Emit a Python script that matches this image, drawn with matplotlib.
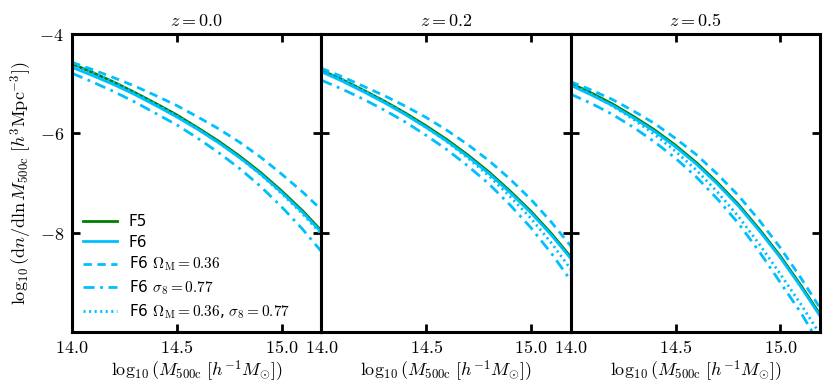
import matplotlib
matplotlib.use("Agg")
import matplotlib.pyplot as plt
import numpy as np

plt.rcParams['mathtext.fontset'] = 'cm'
plt.rcParams['font.family'] = ['DejaVu Sans']
plt.rcParams['lines.scale_dashes'] = False

# log10 mass grid (h^-1 Msun)
log_mass = [14.0, 14.1, 14.2, 14.3, 14.4, 14.5, 14.6, 14.7, 14.8, 14.9, 15.0, 15.1, 15.2]
redshifts = ["0.0", "0.2", "0.5"]

# log10(dn/dlnM) per redshift panel
f5 = [
    [-4.60, -4.78, -4.97, -5.18, -5.40, -5.63, -5.89, -6.16, -6.46, -6.79, -7.16, -7.56, -8.01],
    [-4.73, -4.92, -5.13, -5.35, -5.59, -5.85, -6.13, -6.44, -6.78, -7.16, -7.57, -8.03, -8.54],
    [-4.99, -5.19, -5.41, -5.66, -5.93, -6.24, -6.59, -6.99, -7.43, -7.93, -8.47, -9.07, -9.71],
]
f6 = [
    [-4.67, -4.84, -5.02, -5.22, -5.44, -5.67, -5.92, -6.19, -6.49, -6.82, -7.19, -7.59, -8.04],
    [-4.76, -4.95, -5.16, -5.38, -5.62, -5.88, -6.16, -6.47, -6.81, -7.19, -7.60, -8.06, -8.57],
    [-5.03, -5.23, -5.44, -5.69, -5.96, -6.27, -6.62, -7.02, -7.46, -7.96, -8.50, -9.10, -9.74],
]
f6_om036 = [
    [-4.57, -4.72, -4.88, -5.05, -5.24, -5.44, -5.67, -5.91, -6.18, -6.48, -6.82, -7.18, -7.58],
    [-4.69, -4.86, -5.05, -5.24, -5.45, -5.68, -5.94, -6.23, -6.55, -6.92, -7.33, -7.80, -8.32],
    [-4.96, -5.13, -5.32, -5.55, -5.80, -6.10, -6.43, -6.82, -7.25, -7.75, -8.30, -8.92, -9.58],
]
f6_s8077 = [
    [-4.79, -4.97, -5.16, -5.37, -5.60, -5.83, -6.10, -6.39, -6.71, -7.07, -7.48, -7.93, -8.43],
    [-4.93, -5.11, -5.31, -5.53, -5.77, -6.04, -6.33, -6.66, -7.02, -7.44, -7.90, -8.43, -9.02],
    [-5.21, -5.40, -5.62, -5.88, -6.17, -6.50, -6.88, -7.32, -7.81, -8.38, -9.00, -9.62, -10.33],
]
f6_both = [
    [-4.60, -4.78, -4.97, -5.19, -5.41, -5.65, -5.91, -6.19, -6.49, -6.83, -7.21, -7.62, -8.08],
    [-4.73, -4.92, -5.14, -5.36, -5.61, -5.88, -6.17, -6.50, -6.86, -7.27, -7.71, -8.22, -8.79],
    [-5.00, -5.21, -5.45, -5.72, -6.02, -6.36, -6.74, -7.18, -7.67, -8.23, -8.83, -9.45, -10.11],
]

xticks = [14.0, 14.5, 15.0]
yticks = [-8, -6, -4]

green = '#008000'
cyan = '#00bfff'
lw = 2.0

fig, axes = plt.subplots(1, 3, figsize=(8.3, 3.83), dpi=100, sharey=True)
fig.subplots_adjust(left=0.087, right=0.988, top=0.911, bottom=0.133, wspace=0)

for i, ax in enumerate(axes):
    ax.plot(log_mass, f5[i], color=green, lw=lw, label='F5')
    ax.plot(log_mass, f6[i], color=cyan, lw=lw, label='F6')
    ax.plot(log_mass, f6_om036[i], color=cyan, lw=lw, dashes=(6, 4),
            label=r'F6 $\Omega_{\rm M}=0.36$')
    ax.plot(log_mass, f6_s8077[i], color=cyan, lw=lw, dashes=(8, 4, 2, 4),
            label=r'F6 $\sigma_8=0.77$')
    ax.plot(log_mass, f6_both[i], color=cyan, lw=lw, dashes=(1.5, 2.5),
            label=r'F6 $\Omega_{\rm M}=0.36$, $\sigma_8=0.77$')
    ax.set_xlim(14.0, 15.19)
    ax.set_ylim(-10, -4)
    ax.set_xticks(xticks)
    ax.set_xticklabels([r'$%.1f$' % v for v in xticks], fontsize=13)
    ax.set_yticks(yticks)
    ax.set_yticklabels([r'$%d$' % v for v in yticks], fontsize=13)
    ax.tick_params(direction='in', top=True, right=True, length=6, width=2)
    ax.tick_params(axis='x', pad=5)
    ax.tick_params(axis='y', pad=6)
    for sp in ax.spines.values():
        sp.set_linewidth(2.2)
    ax.set_title(r'$z = %s$' % redshifts[i], fontsize=13, pad=6)
    ax.set_xlabel(r'$\log_{10}(M_{\rm 500c}\ [h^{-1}M_{\odot}])$', fontsize=13, labelpad=1)

axes[0].set_ylabel(r'$\log_{10}({\rm d}n/{\rm d}\ln M_{\rm 500c}\ [h^3{\rm Mpc}^{-3}])$', fontsize=13)
axes[0].legend(loc='lower left', frameon=False, fontsize=11, handlelength=2.2,
               labelspacing=0.35, borderaxespad=0.3)

fig.savefig('out.png', dpi=100)
